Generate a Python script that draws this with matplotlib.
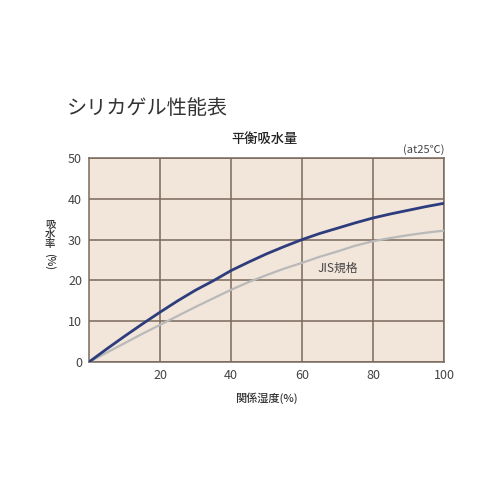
import matplotlib
matplotlib.use("Agg")
import matplotlib.pyplot as plt

plt.rcParams['font.family'] = ['Noto Sans CJK JP', 'DejaVu Sans']

# 相対湿度 (%)
humidity = [0, 5, 10, 15, 20, 25, 30, 35, 40, 45, 50, 55, 60, 65, 70, 75, 80, 85, 90, 95, 100]
# 吸水率 - 製品
product = [0, 3.2, 6.3, 9.3, 12.2, 15.0, 17.6, 19.9, 22.4, 24.5, 26.5, 28.3, 30.0,
           31.5, 32.8, 34.1, 35.3, 36.3, 37.2, 38.1, 38.9]
# 吸水率 - JIS規格
jis = [0, 2.3, 4.6, 6.9, 9.1, 11.3, 13.5, 15.6, 17.7, 19.6, 21.3, 22.9, 24.3,
       25.8, 27.1, 28.5, 29.6, 30.4, 31.1, 31.7, 32.2]

x_ticks = [20, 40, 60, 80, 100]
y_ticks = [0, 10, 20, 30, 40, 50]

grid_col = '#7a6a5e'
text_col = '#444444'

fig = plt.figure(figsize=(5, 5), dpi=100)
ax = fig.add_axes([0.178, 0.276, 0.71, 0.408])
ax.set_facecolor('#f2e5da')

ax.plot(humidity, jis, color='#b9b9b9', lw=1.6, zorder=3)
ax.plot(humidity, product, color='#2d3c7c', lw=2.0, zorder=4)

ax.set_xlim(0, 100)
ax.set_ylim(0, 50)
ax.set_xticks(x_ticks)
ax.set_yticks(y_ticks)
ax.tick_params(length=0, labelsize=9, colors=text_col, pad=5)
ax.grid(True, color=grid_col, lw=1.1)
ax.set_axisbelow(True)
for s in ax.spines.values():
    s.set_color(grid_col)
    s.set_linewidth(1.1)

ax.text(70, 23, 'JIS規格', fontsize=8.5, color=text_col, ha='center', va='center')

fig.text(0.134, 0.782, 'シリカゲル性能表', fontsize=14.5, color='#333333', va='center')
fig.text(0.53, 0.723, '平衡吸水量', fontsize=9.5, color='#222222', ha='center', va='center',
         fontweight='medium')
fig.text(0.89, 0.701, '(at25℃)', fontsize=8, color=text_col, ha='right', va='center')
fig.text(0.532, 0.204, '関係湿度(%)', fontsize=8, color='#333333', ha='center', va='center',
         fontweight='medium')
fig.text(0.1, 0.532, '吸\n水\n率', fontsize=7.5, color='#333333', ha='center', va='center',
         fontweight='medium', linespacing=0.95)
fig.text(0.1, 0.477, '(%)', fontsize=7.5, color='#333333', ha='center', va='center',
         rotation=-90, fontweight='medium')

fig.savefig('out.png', dpi=100, facecolor='white')
